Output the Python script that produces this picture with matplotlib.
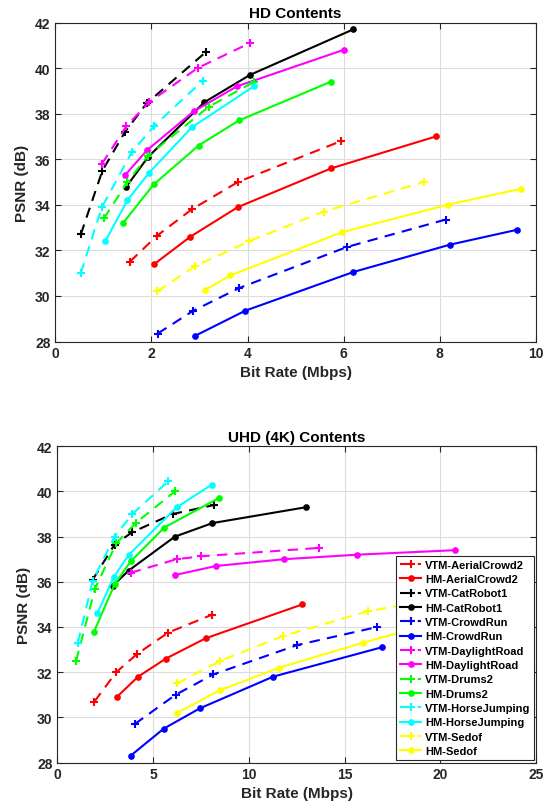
import matplotlib
matplotlib.use("Agg")
import matplotlib.pyplot as plt

plt.rcParams['font.family'] = ['Liberation Sans', 'DejaVu Sans']
plt.rcParams['font.weight'] = 'bold'

names = ['AerialCrowd2', 'CatRobot1', 'CrowdRun', 'DaylightRoad', 'Drums2', 'HorseJumping', 'Sedof']
colors = ['#ff0000', '#000000', '#0000ff', '#ff00ff', '#00ff00', '#00ffff', '#ffff00']

# ---- HD data ----
hd_vtm_x = {
    'AerialCrowd2': [1.55, 2.12, 2.84, 3.80, 5.95],
    'CatRobot1': [0.53, 0.98, 1.45, 1.90, 3.13],
    'CrowdRun': [2.13, 2.87, 3.83, 6.07, 8.12],
    'DaylightRoad': [0.97, 1.48, 1.95, 2.96, 4.05],
    'Drums2': [1.01, 1.50, 1.93, 3.19, 4.14],
    'HorseJumping': [0.53, 0.97, 1.59, 2.05, 3.07],
    'Sedof': [2.12, 2.90, 4.03, 5.58, 7.67],
}
hd_vtm_y = {
    'AerialCrowd2': [31.5, 32.65, 33.8, 35.0, 36.8],
    'CatRobot1': [32.7, 35.5, 37.2, 38.45, 40.7],
    'CrowdRun': [28.35, 29.35, 30.35, 32.15, 33.35],
    'DaylightRoad': [35.8, 37.45, 38.5, 40.0, 41.1],
    'Drums2': [33.4, 35.0, 36.15, 38.3, 39.4],
    'HorseJumping': [31.0, 33.9, 36.3, 37.45, 39.45],
    'Sedof': [30.2, 31.3, 32.4, 33.7, 35.0],
}
hd_hm_x = {
    'AerialCrowd2': [2.06, 2.81, 3.80, 5.74, 7.92],
    'CatRobot1': [1.48, 1.93, 3.10, 4.05, 6.20],
    'CrowdRun': [2.91, 3.95, 6.20, 8.21, 9.60],
    'DaylightRoad': [1.45, 1.91, 2.88, 3.78, 6.00],
    'Drums2': [1.41, 2.05, 2.98, 3.82, 5.73],
    'HorseJumping': [1.04, 1.50, 1.95, 2.84, 4.13],
    'Sedof': [3.11, 3.64, 5.97, 8.16, 9.68],
}
hd_hm_y = {
    'AerialCrowd2': [31.4, 32.6, 33.9, 35.6, 37.0],
    'CatRobot1': [34.8, 36.1, 38.5, 39.7, 41.7],
    'CrowdRun': [28.25, 29.35, 31.05, 32.25, 32.9],
    'DaylightRoad': [35.3, 36.4, 38.1, 39.2, 40.8],
    'Drums2': [33.2, 34.9, 36.6, 37.7, 39.4],
    'HorseJumping': [32.4, 34.2, 35.4, 37.4, 39.2],
    'Sedof': [30.25, 30.9, 32.8, 34.0, 34.7],
}

# ---- UHD data ----
uhd_vtm_x = {
    'AerialCrowd2': [1.94, 3.08, 4.16, 5.79, 8.10],
    'CatRobot1': [1.85, 2.99, 3.92, 6.02, 8.19],
    'CrowdRun': [4.04, 6.18, 8.15, 12.53, 16.71],
    'DaylightRoad': [3.83, 6.23, 7.49, 13.66],
    'Drums2': [0.98, 1.97, 3.08, 4.09, 6.14],
    'HorseJumping': [1.07, 1.85, 2.99, 3.92, 5.79],
    'Sedof': [6.26, 8.50, 11.80, 16.24, 21.5],
}
uhd_vtm_y = {
    'AerialCrowd2': [30.7, 32.0, 32.8, 33.75, 34.55],
    'CatRobot1': [36.1, 37.65, 38.2, 39.0, 39.4],
    'CrowdRun': [29.7, 31.0, 31.9, 33.2, 34.0],
    'DaylightRoad': [36.4, 37.0, 37.13, 37.5],
    'Drums2': [32.5, 35.7, 37.7, 38.6, 40.0],
    'HorseJumping': [33.3, 36.05, 38.0, 39.0, 40.45],
    'Sedof': [31.5, 32.5, 33.6, 34.7, 35.5],
}
uhd_hm_x = {
    'AerialCrowd2': [3.11, 4.22, 5.67, 7.75, 12.80],
    'CatRobot1': [2.90, 3.73, 6.14, 8.10, 12.97],
    'CrowdRun': [3.83, 5.56, 7.45, 11.27, 16.94],
    'DaylightRoad': [6.14, 8.28, 11.83, 15.64, 20.77],
    'Drums2': [1.92, 3.00, 3.83, 5.58, 8.42],
    'HorseJumping': [2.09, 2.94, 3.74, 6.23, 8.07],
    'Sedof': [6.26, 8.50, 11.60, 15.95, 21.5],
}
uhd_hm_y = {
    'AerialCrowd2': [30.9, 31.8, 32.6, 33.5, 35.0],
    'CatRobot1': [35.83, 36.5, 38.0, 38.6, 39.3],
    'CrowdRun': [28.3, 29.5, 30.4, 31.8, 33.1],
    'DaylightRoad': [36.3, 36.7, 37.0, 37.2, 37.4],
    'Drums2': [33.8, 35.9, 36.9, 38.4, 39.7],
    'HorseJumping': [34.6, 36.2, 37.2, 39.3, 40.3],
    'Sedof': [30.2, 31.2, 32.2, 33.3, 34.6],
}

hd_xticks = [0, 2, 4, 6, 8, 10]
uhd_xticks = [0, 5, 10, 15, 20, 25]
yticks = [28, 30, 32, 34, 36, 38, 40, 42]

fig = plt.figure(figsize=(5.57, 8.12), dpi=100)
ax1 = fig.add_axes([55.3 / 557, 1 - 342.5 / 812, (536 - 55.3) / 557, (342.5 - 23.5) / 812])
ax2 = fig.add_axes([57.3 / 557, 1 - 763.5 / 812, (536 - 57.3) / 557, (763.5 - 447.3) / 812])

tick_color = '#262626'


def draw(ax, vx, vy, hx, hy, xticks, title, xmax):
    for n, c in zip(names, colors):
        ax.plot(vx[n], vy[n], linestyle=(0, (5, 3.5)), color=c, lw=1.5,
                marker='+', ms=5.5, mew=1.5, label='VTM-' + n)
        ax.plot(hx[n], hy[n], linestyle='-', color=c, lw=1.5,
                marker='o', ms=3.8, label='HM-' + n)
    ax.set_xlim(0, xmax)
    ax.set_ylim(28, 42)
    ax.set_xticks(xticks)
    ax.set_yticks(yticks)
    ax.grid(True, color='#dcdcdc', lw=0.8)
    ax.set_axisbelow(True)
    ax.tick_params(direction='in', top=True, right=True, labelsize=10,
                   colors=tick_color, length=4, width=0.8)
    for lab in ax.get_xticklabels() + ax.get_yticklabels():
        lab.set_fontweight('bold')
    for s in ax.spines.values():
        s.set_color(tick_color)
        s.set_linewidth(0.8)
    ax.set_title(title, fontsize=11, fontweight='bold', pad=4)
    ax.set_xlabel('Bit Rate (Mbps)', fontsize=11, fontweight='bold', color=tick_color, labelpad=3)
    ax.set_ylabel('PSNR (dB)', fontsize=11, fontweight='bold', color=tick_color, labelpad=4)


draw(ax1, hd_vtm_x, hd_vtm_y, hd_hm_x, hd_hm_y, hd_xticks, 'HD Contents', 10)
draw(ax2, uhd_vtm_x, uhd_vtm_y, uhd_hm_x, uhd_hm_y, uhd_xticks, 'UHD (4K) Contents', 25)

leg = ax2.legend(loc='lower right', bbox_to_anchor=(0.996, 0.008),
                 prop={'weight': 'bold', 'size': 8}, frameon=True, fancybox=False,
                 borderpad=0.35, labelspacing=0.39, handlelength=1.9, handletextpad=0.3,
                 borderaxespad=0)
leg.get_frame().set_edgecolor('#262626')
leg.get_frame().set_linewidth(0.8)
leg.get_frame().set_alpha(1)

fig.savefig('out.png', dpi=100)
